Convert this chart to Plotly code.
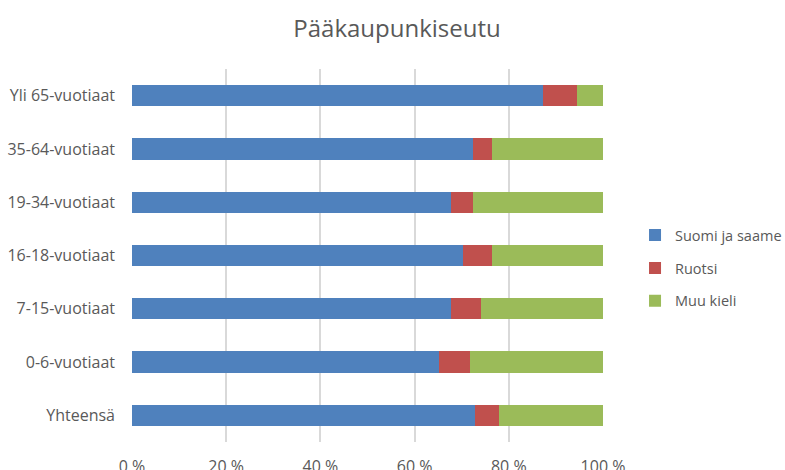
import plotly.graph_objects as go

categories = ["Yhteensä", "0-6-vuotiaat", "7-15-vuotiaat", "16-18-vuotiaat",
              "19-34-vuotiaat", "35-64-vuotiaat", "Yli 65-vuotiaat"]
suomi = [72.8, 65.2, 67.7, 70.3, 67.7, 72.4, 87.3]
ruotsi = [5.2, 6.5, 6.3, 6.2, 4.8, 4.1, 7.2]
muu = [22.0, 28.3, 26.0, 23.5, 27.5, 23.5, 5.5]
series_names = ["Suomi ja saame", "Ruotsi", "Muu kieli"]
colors = ["#4F81BD", "#C0504D", "#9BBB59"]
tick_vals = [0, 20, 40, 60, 80, 100]
tick_text = ["0 %", "20 %", "40 %", "60 %", "80 %", "100 %"]

font_family = "'Open Sans', 'Noto Sans', sans-serif"
text_color = "#595959"

fig = go.Figure()
for i, (name, vals) in enumerate(zip(series_names, [suomi, ruotsi, muu])):
    fig.add_trace(go.Bar(
        y=categories, x=vals, name=name, orientation="h",
        marker=dict(color=colors[i], line=dict(width=0)),
        legendgroup=str(i),
    ))

fig.update_layout(
    barmode="stack",
    bargap=0.6,
    width=785, height=470,
    margin=dict(l=132, r=182, t=69, b=28, autoexpand=False),
    paper_bgcolor="white", plot_bgcolor="white",
    font=dict(family=font_family, size=16, color=text_color),
    title=dict(text="Pääkaupunkiseutu", x=397 / 785, xref="container", xanchor="center",
               y=1 - 29 / 470, yref="container", yanchor="middle",
               font=dict(size=24, color=text_color, family=font_family)),
    legend=dict(x=1.068, xanchor="left", y=0.466, yanchor="middle",
                traceorder="grouped", tracegroupgap=11,
                font=dict(size=14.5, color=text_color),
                itemwidth=30),
    showlegend=True,
)
fig.update_xaxes(range=[0, 100], tickvals=tick_vals, ticktext=tick_text,
                 showgrid=True, gridcolor="#D9D9D9", gridwidth=1.5,
                 zeroline=False, showline=False, ticks="",
                 ticklabelstandoff=13, tickfont=dict(size=16, color=text_color))
fig.update_yaxes(categoryorder="array", categoryarray=categories,
                 showgrid=False, zeroline=False, showline=False, ticks="",
                 ticklabelstandoff=16, tickfont=dict(size=16, color=text_color))

fig.write_html(
    "out.html",
    config={"displayModeBar": False},
    post_script="document.body.style.margin='0';document.body.style.overflow='hidden';",
)
